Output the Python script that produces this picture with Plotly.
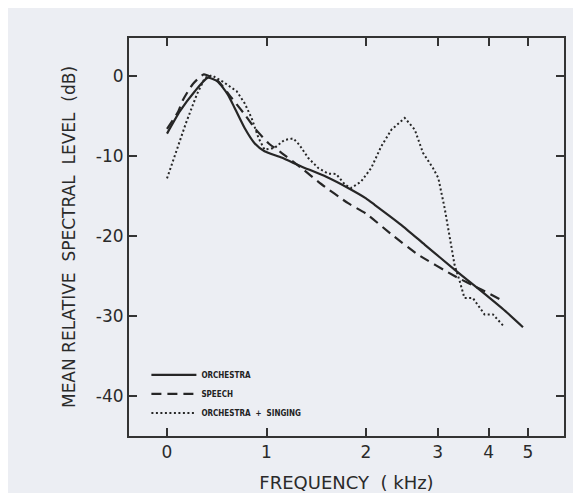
import numpy as np
import plotly.graph_objects as go

# ---- data (frequency in kHz, level in dB) ----
orch_f = [0.0, 0.13, 0.28, 0.41, 0.51, 0.61, 0.68, 0.78, 0.88, 0.98, 1.15, 1.35,
          1.6, 1.82, 2.0, 2.1, 2.44, 2.79, 3.3, 3.84, 4.4, 4.86]
orch_db = [-7.2, -4.4, -1.9, -0.2, -0.7, -2.3, -4.0, -6.5, -8.4, -9.4, -10.2, -11.3,
           -12.6, -14.0, -15.3, -16.1, -18.6, -21.1, -24.2, -26.9, -29.4, -31.4]

speech_f = [0.0, 0.11, 0.16, 0.26, 0.37, 0.51, 0.65, 0.78, 0.88, 1.02, 1.15, 1.35,
            1.55, 1.82, 2.0, 2.31, 2.68, 3.3, 3.84, 4.3]
speech_db = [-6.6, -4.5, -3.0, -1.0, 0.2, -0.6, -2.75, -4.8, -6.5, -8.4, -9.6, -11.5,
             -13.5, -15.9, -17.2, -19.8, -22.3, -25.0, -26.7, -28.0]

sing_f = [0.0, 0.08, 0.19, 0.30, 0.38, 0.45, 0.56, 0.70, 0.78, 0.85, 0.92, 0.98,
          1.08, 1.18, 1.27, 1.33, 1.42, 1.52, 1.62, 1.70, 1.79, 1.85, 1.95, 2.06,
          2.18, 2.31, 2.49, 2.635, 2.76, 2.92, 3.01, 3.12, 3.21, 3.30, 3.40, 3.49,
          3.66, 3.91, 4.10, 4.38]
sing_db = [-12.8, -9.8, -5.9, -2.3, -0.25, 0.1, -0.7, -1.9, -3.4, -5.25, -7.75, -9.2,
           -9.0, -8.0, -7.8, -8.6, -10.25, -11.5, -12.2, -12.25, -13.6, -14.0, -13.2, -11.5,
           -8.8, -6.7, -5.25, -6.7, -9.6, -11.5, -12.75, -16.5, -20.25, -23.6, -25.7, -27.75,
           -27.75, -29.8, -29.8, -31.4]

x_ticks = [0, 1, 2, 3, 4, 5]
x_tick_labels = ["0", "1", "2", "3", "4", "5"]
y_ticks = [0, -10, -20, -30, -40]
y_tick_labels = ["0", "-10", "-20", "-30", "-40"]


# frequency axis of the original: linear up to 2 kHz, logarithmic above
def freq_scale(f):
    f = np.asarray(f, dtype=float)
    return np.where(f <= 2.0, f, 2.0 + 1.777 * np.log(np.maximum(f, 1e-9) / 2.0))


INK = "#262626"
BG = "#eceef3"

fig = go.Figure()
fig.add_trace(go.Scatter(x=freq_scale(orch_f), y=orch_db, mode="lines", name="ORCHESTRA",
                         line=dict(color=INK, width=2.2, shape="spline", smoothing=0.5)))
fig.add_trace(go.Scatter(x=freq_scale(speech_f), y=speech_db, mode="lines", name="SPEECH",
                         line=dict(color=INK, width=2.2, dash="10px,6px", shape="spline",
                                   smoothing=0.5)))
fig.add_trace(go.Scatter(x=freq_scale(sing_f), y=sing_db, mode="lines",
                         name="ORCHESTRA  +  SINGING",
                         line=dict(color=INK, width=2, dash="2px,2.5px")))

axis_font = dict(family="DejaVu Sans, Liberation Sans, sans-serif", size=17, color="#2a2a2a")

fig.update_layout(
    width=581, height=493,
    margin=dict(l=121, r=25, t=30, b=65),
    paper_bgcolor=BG, plot_bgcolor=BG,
    showlegend=True,
    legend=dict(x=0.04, y=0.19, xanchor="left", yanchor="top",
                bgcolor="rgba(0,0,0,0)", borderwidth=0,
                font=dict(family="DejaVu Sans Condensed, Liberation Sans Narrow, DejaVu Sans, sans-serif",
                          size=8, color="#222", weight="bold"),
                tracegroupgap=0, itemwidth=45),
    xaxis=dict(
        range=[-0.382, 3.99],
        tickmode="array", tickvals=freq_scale(x_ticks), ticktext=x_tick_labels,
        ticks="inside", ticklen=8, tickwidth=2, tickcolor="#333",
        showline=True, linewidth=2, linecolor="#333", mirror="ticks",
        showgrid=False, zeroline=False,
        tickfont=axis_font,
        title=dict(text="FREQUENCY  ( kHz)", font=dict(family="DejaVu Sans, sans-serif", size=18,
                                                      color="#2a2a2a"), standoff=15),
    ),
    yaxis=dict(
        range=[-45, 4.75],
        tickmode="array", tickvals=y_ticks, ticktext=y_tick_labels,
        ticks="inside", ticklen=8, tickwidth=2, tickcolor="#333",
        showline=True, linewidth=2, linecolor="#333", mirror="ticks",
        showgrid=False, zeroline=False,
        tickfont=axis_font,
        title=dict(text="MEAN RELATIVE  SPECTRAL  LEVEL  (dB)",
                   font=dict(family="DejaVu Sans, sans-serif", size=17, color="#2a2a2a"),
                   standoff=16),
    ),
)

fig.write_html("out.html")
